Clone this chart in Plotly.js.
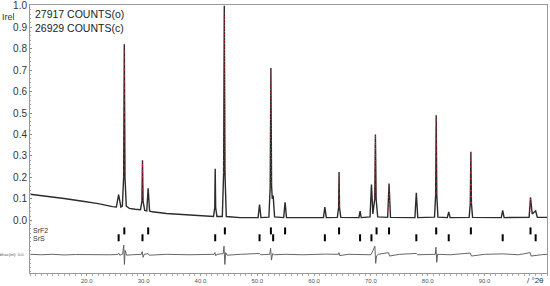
<!DOCTYPE html>
<html>
<head>
<meta charset="utf-8">
<script src="https://cdn.plot.ly/plotly-3.0.1.min.js"></script>
<style>
  html, body { margin: 0; padding: 0; background: #fff; }
  #plot { width: 550px; height: 286px; }
</style>
</head>
<body>
<div id="plot"></div>
<script>
var obsX = [10, 13, 16, 19, 22, 24.5, 25.2, 25.6, 26.0, 26.25, 26.48, 26.6, 26.72, 26.95, 27.5, 28.5,
  29.45, 29.7, 29.8, 29.9, 30.2, 30.55, 30.8, 31.05, 31.5, 34, 37, 40,
  42.3, 42.52, 42.6, 42.68, 42.9, 43.85, 44.08, 44.2, 44.32, 44.55, 47,
  50.15, 50.4, 50.65, 52.05, 52.28, 52.4, 52.52, 52.65, 52.8, 53.05, 54.65, 54.9, 55.15,
  61.65, 61.9, 62.15, 64.1, 64.32, 64.4, 64.48, 64.7, 67.9, 68.1, 68.3,
  69.85, 70.1, 70.35, 70.68, 70.8, 70.92, 71.2, 72.95, 73.2, 73.45,
  77.75, 78.0, 78.25, 81.2, 81.4, 81.5, 81.6, 81.8, 83.45, 83.7, 83.95,
  87.3, 87.5, 87.6, 87.7, 87.9, 92.95, 93.2, 93.45, 97.85, 98.1, 98.4, 99.0, 99.3, 101];
var obsY = [.122, .113, .102, .090, .078, .064, .062, .120, .062, .066, .20, .82, .20, .066, .056, .052,
  .050, .09, .28, .09, .046, .044, .15, .044, .040, .032, .026, .021,
  .018, .06, .24, .06, .018, .018, .22, 1.0, .22, .018, .013,
  .013, .074, .013, .015, .16, .71, .16, .10, .116, .016, .013, .084, .013,
  .013, .062, .013, .014, .06, .225, .06, .014, .013, .043, .013,
  .016, .167, .03, .10, .40, .10, .016, .014, .172, .014,
  .013, .129, .013, .015, .12, .49, .12, .015, .013, .039, .013,
  .014, .08, .32, .08, .014, .013, .047, .013, .014, .107, .03, .045, .014, .014];

// calculated pattern near the peak tops (red)
var calcX = [26.48, 26.6, 26.72, null, 29.7, 29.8, 29.9, null, 44.08, 44.2, 44.32, null,
  52.28, 52.4, 52.52, null, 64.32, 64.4, 64.48, null, 70.68, 70.8, 70.92, null,
  73.1, 73.2, 73.3, null, 81.4, 81.5, 81.6, null, 87.5, 87.6, 87.7, null, 98.0, 98.1, 98.2];
var calcY = [.20, .80, .20, null, .09, .27, .09, null, .22, .97, .22, null,
  .16, .70, .16, null, .06, .22, .06, null, .10, .40, .10, null,
  .05, .17, .05, null, .12, .49, .12, null, .08, .32, .08, null, .04, .105, .04];

// difference curve (drawn with its offset)
var diffX = [10, 12, 14, 16, 18, 20, 22, 24, 25.4, 25.6, 25.8, 26.3, 26.5, 26.62, 26.75, 27.0, 28,
  29.6, 29.75, 29.9, 30.1, 30.8, 31, 34, 38, 42.4, 42.55, 42.7, 42.9, 44.0, 44.15, 44.3, 44.45, 44.7,
  47, 50.4, 50.6, 52.2, 52.35, 52.5, 52.7, 53, 55, 58, 62, 64.3, 64.4, 64.5, 66,
  70.0, 70.2, 70.7, 70.85, 71.0, 71.3, 73.1, 73.3, 75, 78, 78.2, 81.35, 81.45, 81.6, 81.75,
  84, 87.5, 87.7, 90, 93.2, 96, 98.05, 98.2, 100, 101];
var diffY = [-.158, -.160, -.158, -.161, -.159, -.160, -.158, -.160, -.159, -.152, -.162, -.158, -.115, -.205, -.14, -.162, -.160,
  -.158, -.145, -.172, -.158, -.155, -.162, -.158, -.160, -.158, -.150, -.165, -.158, -.155, -.12, -.205, -.15, -.162,
  -.158, -.154, -.160, -.158, -.13, -.185, -.155, -.160, -.158, -.160, -.157, -.158, -.150, -.164, -.158,
  -.160, -.150, -.120, -.200, -.165, -.158, -.150, -.166, -.158, -.154, -.160, -.158, -.125, -.195, -.158,
  -.160, -.152, -.166, -.158, -.156, -.160, -.150, -.166, -.160, -.158];

// reflection positions
var srf2Pos = [26.6, 30.8, 44.3, 52.4, 54.9, 64.4, 71.0, 73.2, 81.5, 87.6, 98.1];
var srsPos = [25.6, 29.8, 42.6, 50.4, 52.8, 61.9, 68.1, 70.1, 78.0, 83.7, 93.2, 99.0];
var srf2Row = srf2Pos.map(function () { return -0.049; });
var srsRow = srsPos.map(function () { return -0.081; });

var yTicks = [0, 0.1, 0.2, 0.3, 0.4, 0.5, 0.6, 0.7, 0.8, 0.9, 1.0];
var yLabels = ["0.0", "0.1", "0.2", "0.3", "0.4", "0.5", "0.6", "0.7", "0.8", "0.9", "1.0"];

var obs = {
  x: obsX, y: obsY, type: 'scatter', mode: 'lines',
  line: {color: '#2b2b2b', width: 1.4}, hoverinfo: 'x+y'
};
var calc = {
  x: calcX, y: calcY, type: 'scatter', mode: 'lines',
  line: {color: '#e8302a', width: 1, dash: '1px,5px'}
};
var diff = {
  x: diffX, y: diffY, type: 'scatter', mode: 'lines',
  line: {color: '#555', width: 0.9}
};
var srf2 = {
  x: srf2Pos, y: srf2Row, type: 'scatter', mode: 'markers',
  marker: {symbol: 'line-ns', size: 5, line: {color: '#000', width: 2}}
};
var srs = {
  x: srsPos, y: srsRow, type: 'scatter', mode: 'markers',
  marker: {symbol: 'line-ns', size: 5, line: {color: '#000', width: 2}}
};

var data = [obs, calc, diff, srf2, srs];
var layout = {
  width: 550,
  height: 286,
  showlegend: false,
  paper_bgcolor: '#fff',
  plot_bgcolor: '#fff',
  margin: {l: 30, r: 3, t: 5, b: 13},
  font: {family: 'Liberation Sans, Arial, sans-serif', color: '#333'},
  xaxis: {
    range: [10, 101],
    tickvals: [20, 30, 40, 50, 60, 70, 80, 90],
    tickformat: '.1f',
    tickfont: {size: 6, color: '#555'},
    ticks: 'outside', ticklen: 2, tickcolor: '#999',
    minor: {dtick: 1, ticks: 'outside', ticklen: 1.5, tickcolor: '#aaa'},
    showgrid: false, zeroline: false,
    showline: true, linecolor: '#999', linewidth: 1, mirror: true
  },
  yaxis: {
    range: [-0.245, 1.003],
    tickvals: yTicks,
    ticktext: yLabels,
    tickfont: {size: 10, color: '#333'},
    ticks: 'inside', ticklen: 2, tickcolor: '#888',
    minor: {dtick: 0.02, ticks: 'inside', ticklen: 1, tickcolor: '#aaa'},
    showgrid: false, zeroline: false,
    showline: true, linecolor: '#999', linewidth: 1, mirror: true
  },
  annotations: [
    {xref: 'paper', yref: 'paper', x: 0.005, y: 0.995, xanchor: 'left', yanchor: 'top',
      text: '27917 COUNTS(o)<br>26929 COUNTS(c)', align: 'left', showarrow: false,
      font: {size: 10.5, color: '#222'}},
    {xref: 'paper', yref: 'paper', x: -0.025, y: 0.955, xanchor: 'right', yanchor: 'middle',
      text: 'Irel', showarrow: false, font: {size: 9, color: '#333'}},
    {xref: 'paper', yref: 'y', x: 0.002, y: -0.049, xanchor: 'left', yanchor: 'middle',
      text: 'SrF2', showarrow: false, font: {size: 7, color: '#333'}},
    {xref: 'paper', yref: 'y', x: 0.002, y: -0.082, xanchor: 'left', yanchor: 'middle',
      text: 'SrS', showarrow: false, font: {size: 7, color: '#333'}},
    {xref: 'paper', yref: 'y', x: -0.008, y: -0.158, xanchor: 'right', yanchor: 'middle',
      text: 'difrac(int)  0.0', showarrow: false, font: {size: 4, color: '#555'}},
    {xref: 'paper', yref: 'paper', x: 0.998, y: 0, xanchor: 'right', yanchor: 'top', yshift: -1,
      text: '/ °2θ', showarrow: false, font: {size: 8, color: '#333'}}
  ]
};
Plotly.newPlot('plot', data, layout, {displayModeBar: false, staticPlot: true});
</script>
</body>
</html>
